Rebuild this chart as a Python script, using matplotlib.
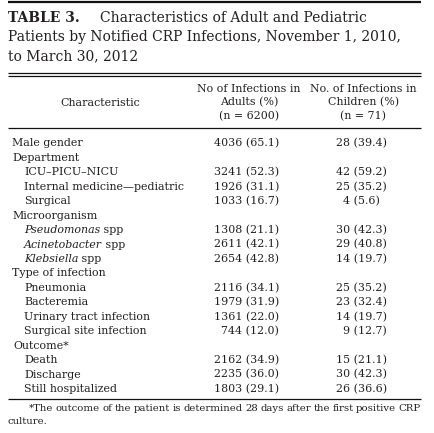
import matplotlib
matplotlib.use("Agg")
import matplotlib.pyplot as plt

# ---------------- data ----------------
title_bold = "TABLE 3."
title_lines = ["Characteristics of Adult and Pediatric",
               "Patients by Notified CRP Infections, November 1, 2010,",
               "to March 30, 2012"]
col_headers = [["Characteristic"],
               ["No of Infections in", "Adults (%)", "(n = 6200)"],
               ["No. of Infections in", "Children (%)", "(n = 71)"]]
# (italic part, regular part)
row_labels = [("", "Male gender"), ("", "Department"), ("", "ICU\u2013PICU\u2013NICU"),
              ("", "Internal medicine\u2014pediatric"), ("", "Surgical"),
              ("", "Microorganism"), ("Pseudomonas", " spp"), ("Acinetobacter", " spp"),
              ("Klebsiella", " spp"), ("", "Type of infection"), ("", "Pneumonia"),
              ("", "Bacteremia"), ("", "Urinary tract infection"),
              ("", "Surgical site infection"), ("", "Outcome*"), ("", "Death"),
              ("", "Discharge"), ("", "Still hospitalized")]
row_indent = [0, 0, 1, 1, 1, 0, 1, 1, 1, 0, 1, 1, 1, 1, 0, 1, 1, 1]
adult_n = [4036, None, 3241, 1926, 1033, None, 1308, 2611, 2654, None,
           2116, 1979, 1361, 744, None, 2162, 2235, 1803]
adult_pct = [65.1, None, 52.3, 31.1, 16.7, None, 21.1, 42.1, 42.8, None,
             34.1, 31.9, 22.0, 12.0, None, 34.9, 36.0, 29.1]
child_n = [28, None, 42, 25, 4, None, 30, 29, 14, None,
           25, 23, 14, 9, None, 15, 30, 26]
child_pct = [39.4, None, 59.2, 35.2, 5.6, None, 42.3, 40.8, 19.7, None,
             35.2, 32.4, 19.7, 12.7, None, 21.1, 42.3, 36.6]
footnote = ("*The outcome of the patient is determined 28 days after the first positive CRP",
            "culture.")

# ---------------- layout ----------------
W, H = 434, 433
FAM = "DejaVu Serif"
COL = "#231f20"
fig = plt.figure(figsize=(W / 100, H / 100), dpi=100)
ax = fig.add_axes([0, 0, 1, 1])
ax.set_xlim(0, W)
ax.set_ylim(H, 0)
ax.axis("off")
renderer = fig.canvas.get_renderer()


def width(s, size, **kw):
    t = ax.text(0, 0, s, fontsize=size, family=FAM, **kw)
    w = t.get_window_extent(renderer).width
    t.remove()
    return w


def fit(s, target, **kw):
    return 10 * target / width(s, 10, **kw)


body = fit("Internal medicine\u2014pediatric", 161)
tsize = fit(title_lines[1], 392)
fsize = fit("outcome", 44)


def txt(x, y, s, size, **kw):
    return ax.text(x, y, s, fontsize=size, family=FAM, color=COL, va="baseline", **kw)


# title
txt(8, 22, title_bold, tsize, weight="bold")
txt(100, 22, title_lines[0], tsize)
txt(8, 41, title_lines[1], tsize)
txt(8, 60, title_lines[2], tsize)

# rules
ax.hlines(2.2, 8, 421, color="#111111", lw=1.6)
ax.hlines([73, 76.3], 8, 421, color="#111111", lw=0.9)
ax.hlines(127.5, 8, 421, color="#111111", lw=0.9)
ax.hlines(399, 8, 421, color="#111111", lw=0.9)

# headers
txt(100, 105.5, col_headers[0][0], body, ha="center")
for cx, lines in [(249, col_headers[1]), (363.5, col_headers[2])]:
    for yy, s in zip([91.5, 105.5, 119.5], lines):
        txt(cx, yy, s, body, ha="center")

# rows
y0, dy = 146.5, 14.44
FS = "\u2007"
max_pct_len = 4
for i, (it, rest) in enumerate(row_labels):
    y = y0 + i * dy
    x = 24 if row_indent[i] else 12
    if rest == "Outcome*":
        x = 13
    if it:
        t = txt(x, y, it, body, style="italic")
        x = t.get_window_extent(renderer).x1
    txt(x, y, rest, body)
    if adult_n[i] is not None:
        p = f"{adult_pct[i]:.1f}"
        txt(279, y, f"{adult_n[i]} ({p})" + FS * (max_pct_len - len(p)), body, ha="right")
    if child_n[i] is not None:
        p = f"{child_pct[i]:.1f}"
        txt(387, y, f"{child_n[i]} ({p})" + FS * (max_pct_len - len(p)), body, ha="right")

# footnote (justified first line)
words = footnote[0].split(" ")
ws = [width(w, fsize) for w in words]
x0, x1 = 29, 421
gap = (x1 - x0 - sum(ws)) / (len(words) - 1)
x = x0
for w, wd in zip(words, ws):
    txt(x, 410.7, w, fsize)
    x += wd + gap
txt(8, 424.5, footnote[1], fsize)

fig.savefig("out.png", dpi=100, facecolor="white")
